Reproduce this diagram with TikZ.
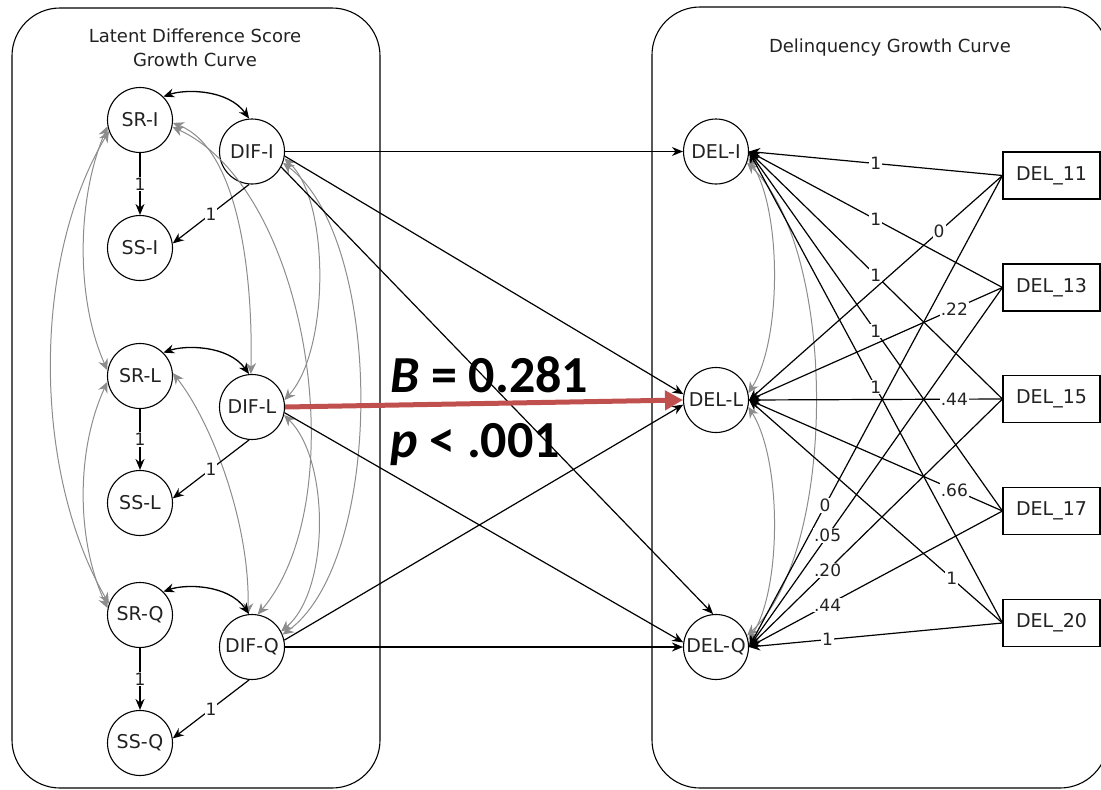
\documentclass[tikz,border=0pt]{standalone}
\usepackage{fontspec}
\setmainfont{DejaVu Sans}
\newfontfamily\calibri{Carlito}
\usetikzlibrary{arrows.meta}
\definecolor{redarrow}{RGB}{192,80,77}
\definecolor{gcol}{RGB}{140,140,140}
\definecolor{txt}{RGB}{34,34,34}
\begin{document}
\begin{tikzpicture}[x=1pt,y=-1pt,
  lat/.style={circle,draw,line width=1.1pt,minimum size=65pt,inner sep=0pt,fill=white,text=txt,font=\fontsize{19}{22}\selectfont},
  obs/.style={rectangle,draw,line width=1.1pt,minimum width=97pt,minimum height=47pt,inner sep=0pt,fill=white,text=txt,font=\fontsize{19}{22}\selectfont},
  reg/.style={draw,line width=1.2pt,-{Stealth[length=11pt,width=9pt]}},
  dcov/.style={draw,line width=1.3pt,{Stealth[length=11pt,width=9pt]}-{Stealth[length=11pt,width=9pt]}},
  gcov/.style={draw=gcol,line width=1pt,{Stealth[length=11pt,width=10pt]}-{Stealth[length=11pt,width=10pt]}},
  redreg/.style={draw=redarrow,line width=5pt,-{Triangle[length=18pt,width=19pt]}},
  lab/.style={fill=white,inner sep=1pt,text=txt,font=\fontsize{17}{20}\selectfont},
  ttl/.style={anchor=base,inner sep=0pt,text=txt,font=\fontsize{18}{22}\selectfont},
  big/.style={anchor=base west,inner sep=0pt,font=\calibri\bfseries\fontsize{52}{60}\selectfont},
  panel/.style={draw,line width=1.1pt,rounded corners=48pt}
]
\useasboundingbox (0,0) rectangle (1101,790);
\clip (0,0) rectangle (1101,790);

% panels
\draw[panel] (12,8) rectangle (380,788);
\draw[panel] (652,7) rectangle (1108,788);

% titles
\node[ttl] (t1) at (195,42) {Latent Difference Score};
\node[ttl] (t2) at (195,66) {Growth Curve};
\node[ttl] (t3) at (890,52) {Delinquency Growth Curve};

% left latent nodes
\node[lat] (SRI)  at (140,120) {SR-I};
\node[lat] (DIFI) at (252,151.5) {DIF-I};
\node[lat] (SSI)  at (140,248) {SS-I};
\node[lat] (SRL)  at (140,376) {SR-L};
\node[lat] (DIFL) at (252,407) {DIF-L};
\node[lat] (SSL)  at (140,503) {SS-L};
\node[lat] (SRQ)  at (140,615) {SR-Q};
\node[lat] (DIFQ) at (252,647) {DIF-Q};
\node[lat] (SSQ)  at (140,743) {SS-Q};

% right latent nodes
\node[lat] (DELI) at (716,151.5) {DEL-I};
\node[lat] (DELL) at (716,400) {DEL-L};
\node[lat] (DELQ) at (716,647) {DEL-Q};

% observed boxes
\node[obs] (b11) at (1051.5,175.5) {DEL\_11};
\node[obs] (b13) at (1051.5,287.5) {DEL\_13};
\node[obs] (b15) at (1051.5,399) {DEL\_15};
\node[obs] (b17) at (1051.5,511) {DEL\_17};
\node[obs] (b20) at (1051.5,623) {DEL\_20};

% gray covariances, left
\draw[gcov] (SRI.191) .. controls (76,200) and (76,300) .. (SRL.170);
\draw[gcov] (SRI.200) .. controls (32,260) and (32,470) .. (SRQ.160);
\draw[gcov] (SRL.190) .. controls (76,450) and (76,540) .. (SRQ.168);
\draw[gcov] (SRI.-5) .. controls (240,150) and (253,280) .. (DIFL.92);
\draw[gcov] (SRI.-12) .. controls (310,190) and (355,500) .. (DIFQ.80);
\draw[gcov] (SRL.5) .. controls (210,420) and (250,520) .. (DIFQ.97);
\draw[gcov] (DIFI.-12) .. controls (330,200) and (330,350) .. (DIFL.12);
\draw[gcov] (DIFI.-20) .. controls (385,240) and (385,560) .. (DIFQ.22);
\draw[gcov] (DIFL.-14) .. controls (330,460) and (330,590) .. (DIFQ.28);

% gray covariances, right
\draw[gcov] (DELI.-12) .. controls (782,210) and (782,340) .. (DELL.12);
\draw[gcov] (DELI.-20) .. controls (838,250) and (838,550) .. (DELQ.20);
\draw[gcov] (DELL.-12) .. controls (782,460) and (782,590) .. (DELQ.12);

% black covariances
\draw[dcov] (SRI.45) .. controls (185,89) and (228,89) .. (DIFI.95);
\draw[dcov] (SRL.45) .. controls (185,345) and (228,345) .. (DIFL.95);
\draw[dcov] (SRQ.45) .. controls (185,584) and (228,584) .. (DIFQ.95);

% slopes within the left panel
\draw[reg] (SRI.south) -- node[lab,midway] {1} (SSI.north);
\draw[reg] (DIFI.265) -- node[lab,midway] {1} (SSI.8);
\draw[reg] (SRL.south) -- node[lab,midway] {1} (SSL.north);
\draw[reg] (DIFL.265) -- node[lab,midway] {1} (SSL.8);
\draw[reg] (SRQ.south) -- node[lab,midway] {1} (SSQ.north);
\draw[reg] (DIFQ.265) -- node[lab,midway] {1} (SSQ.8);

% cross-panel regressions
\draw[reg] (DIFI.east) -- (DELI.west);
\draw[reg] (DIFI.-8) -- (DELL.170);
\draw[reg] (DIFI.-28) -- (DELQ.95);
\draw[reg] (DIFL.-10) -- (DELQ.172);
\draw[reg] (DIFQ.12) -- (DELL.188);
\draw[reg] (DIFQ.east) -- (DELQ.west);
\draw[redreg] (DIFL.east) -- (DELL.west);

% loadings
\draw[reg] (b11.west) -- coordinate[pos=0.5] (i11) (DELI.east);
\draw[reg] (b13.west) -- coordinate[pos=0.5] (i13) (DELI.east);
\draw[reg] (b15.west) -- coordinate[pos=0.5] (i15) (DELI.east);
\draw[reg] (b17.west) -- coordinate[pos=0.5] (i17) (DELI.east);
\draw[reg] (b20.west) -- coordinate[pos=0.5] (i20) (DELI.east);
\draw[reg] (b11.west) -- coordinate[pos=0.25] (l11) (DELL.east);
\draw[reg] (b13.west) -- coordinate[pos=0.19] (l13) (DELL.east);
\draw[reg] (b15.west) -- coordinate[pos=0.19] (l15) (DELL.east);
\draw[reg] (b17.west) -- coordinate[pos=0.19] (l17) (DELL.east);
\draw[reg] (b20.west) -- coordinate[pos=0.2] (l20) (DELL.east);
\draw[reg] (b11.west) -- coordinate[pos=0.7] (q11) (DELQ.east);
\draw[reg] (b13.west) -- coordinate[pos=0.69] (q13) (DELQ.east);
\draw[reg] (b15.west) -- coordinate[pos=0.69] (q15) (DELQ.east);
\draw[reg] (b17.west) -- coordinate[pos=0.69] (q17) (DELQ.east);
\draw[reg] (b20.west) -- coordinate[pos=0.69] (q20) (DELQ.east);

\node[lab] at (i11) {1};
\node[lab] at (i13) {1};
\node[lab] at (i15) {1};
\node[lab] at (i17) {1};
\node[lab] at (i20) {1};
\node[lab] at (l11) {0};
\node[lab] at (l13) {.22};
\node[lab] at (l15) {.44};
\node[lab] at (l17) {.66};
\node[lab] at (l20) {1};
\node[lab] at (q11) {0};
\node[lab] at (q13) {.05};
\node[lab] at (q15) {.20};
\node[lab] at (q17) {.44};
\node[lab] at (q20) {1};

% estimate text
\node[big] (est) at (390,392) {\textit{B} = 0.281};
\node[big] (pval) at (390,457) {\textit{p} < .001};
\end{tikzpicture}
\end{document}
